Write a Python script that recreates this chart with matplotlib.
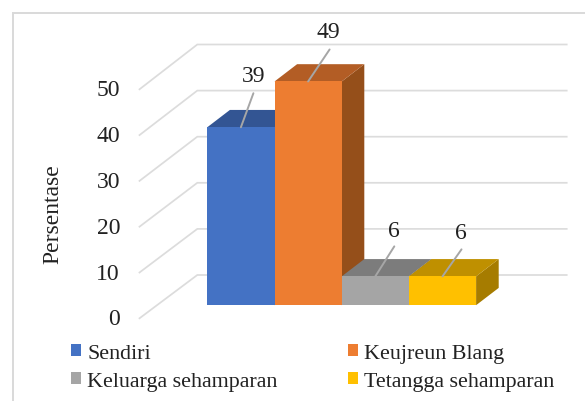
import matplotlib
matplotlib.use("Agg")
import matplotlib.pyplot as plt
from matplotlib.lines import Line2D
from matplotlib.patches import Patch

plt.rcParams['font.family'] = ['Liberation Serif', 'DejaVu Serif']

categories = ["Sendiri", "Keujreun Blang", "Keluarga sehamparan", "Tetangga sehamparan"]
values = [38.9, 48.9, 6.3, 6.3]
labels = ["39", "49", "6", "6"]
ticks = [0, 10, 20, 30, 40, 50]
front = ["#4472C4", "#ED7D31", "#A5A5A5", "#FFC000"]
top = ["#335593", "#B35D25", "#7C7C7C", "#BF9000"]
side = ["#2A4A80", "#954F1A", "#6B6B6B", "#A67C00"]
label_offsets = [(12.5, 52), (20.5, 50), (18.5, 46), (18.5, 44)]
leader_offsets = [(12.5, 34), (21.5, 32), (19, 30), (19, 27)]

W, H = 585, 402
UX, UY = 67.2, 4.575      # pixels per bar and per value unit
X0, Y0 = 207.3, 306.2     # pixel position of the front origin

fig = plt.figure(figsize=(W / 100, H / 100), dpi=100, facecolor="white")
ax = fig.add_axes([0, 0, 1, 1])
ax.set_xlim(-X0 / UX, (W - X0) / UX)
ax.set_ylim(-(H - Y0) / UY, Y0 / UY)
ax.axis("off")

dx, dy = 22.6 / UX, 17.3 / UY              # bar depth
wall_x0, wall_x1, wall_x2 = (139.5 - X0) / UX, (197.3 - X0) / UX, (566.7 - X0) / UX
wall_base = (Y0 - 276) / UY
wall_drop = 43.3 / UY
wall_scale = 46.1 / 10 / UY
grid_c = "#DCDCDC"
text_c = "#222222"

for t in ticks:
    yb = wall_base + t * wall_scale
    yf = yb - wall_drop - t * (wall_scale - 45.8 / 10 / UY)
    ax.plot([wall_x0, wall_x1, wall_x2], [yf, yb, yb], color=grid_c, lw=1.25,
            solid_joinstyle="miter", zorder=1)
    ax.text((120 - X0) / UX, yf + 2.0 / UY, str(t), ha="right", va="center_baseline",
            fontsize=17, color=text_c)

for i, v in enumerate(values):
    ax.fill([i + 1, i + 1 + dx, i + 1 + dx, i + 1], [0, dy, v + dy, v], color=side[i], lw=0,
            zorder=2 + i)
    ax.fill([i, i + 1, i + 1 + dx, i + dx], [v, v, v + dy, v + dy], color=top[i], lw=0,
            zorder=2 + i)
    ax.bar(i + 0.5, v, width=1, color=front[i], lw=0, zorder=2 + i)

for i, v in enumerate(values):
    ax.annotate("", xy=(i + 0.5, v), xytext=leader_offsets[i], textcoords="offset pixels",
                arrowprops=dict(arrowstyle="-", color="#A6A6A6", lw=1.4, shrinkA=0, shrinkB=0),
                zorder=10)
    ax.annotate(labels[i], xy=(i + 0.5, v), xytext=label_offsets[i], textcoords="offset pixels",
                ha="center", va="center", fontsize=17, color=text_c, zorder=10)

ax.text((53 - X0) / UX, (Y0 - 214) / UY, "Persentase", rotation=90, ha="center", va="center",
        fontsize=17, color=text_c)

handles = [Patch(facecolor=c, edgecolor="none") for c in front]
order = [0, 2, 1, 3]
fig.legend([handles[i] for i in order], [categories[i] for i in order], ncol=2,
           loc="lower left", bbox_to_anchor=(71 / W, 1 - 392 / H), frameon=False,
           fontsize=15.85, labelcolor=text_c, handlelength=0.46, handleheight=0.46,
           handletextpad=0.28, columnspacing=3.2, labelspacing=0.42, borderpad=0, borderaxespad=0)

fig.add_artist(Line2D([13 / W, 13 / W, 1], [0, 1 - 14 / H, 1 - 14 / H], color="#D9D9D9", lw=1.4,
                      solid_joinstyle="miter"))

fig.savefig("out.png", dpi=100)
